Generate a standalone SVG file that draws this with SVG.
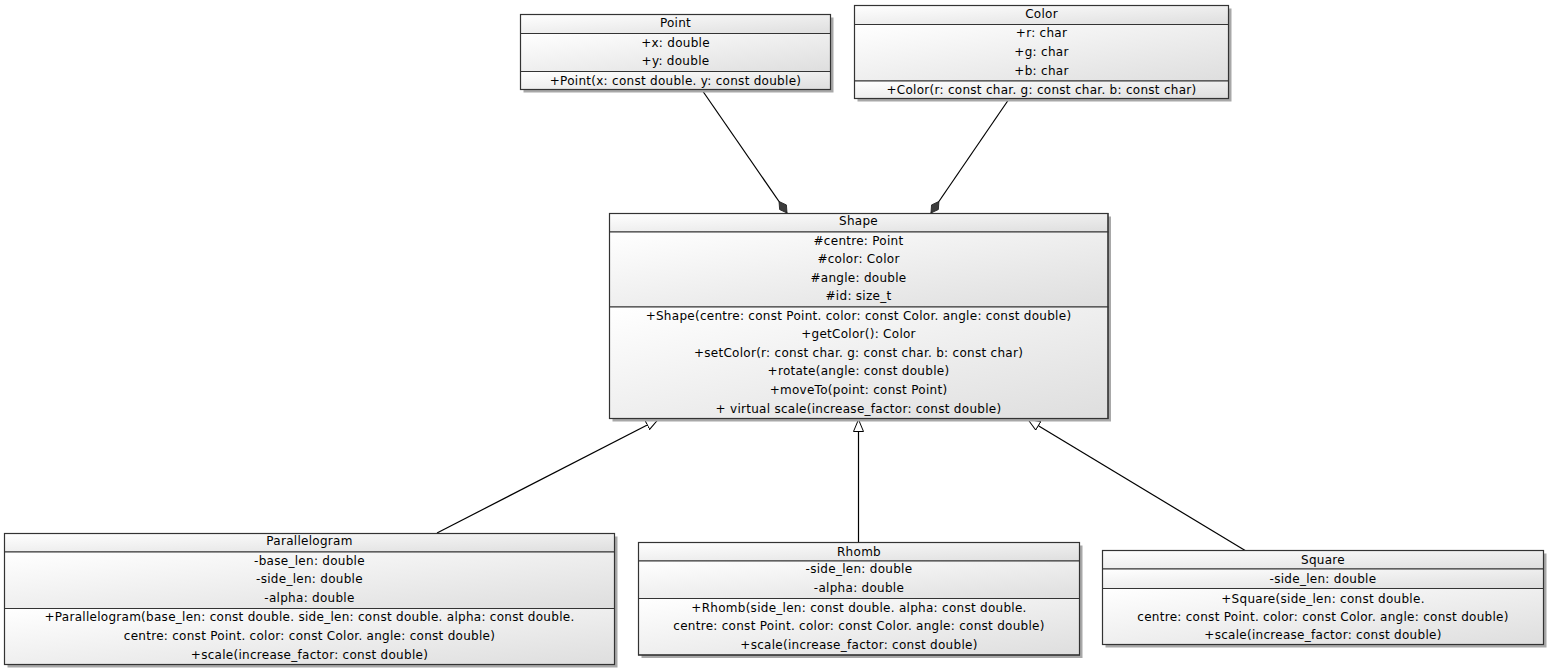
<svg xmlns="http://www.w3.org/2000/svg" width="1547" height="670" viewBox="0 0 1547 670">
<defs>
<linearGradient id="g" x1="0" y1="0" x2="1" y2="1">
<stop offset="0" stop-color="#ffffff"/>
<stop offset="1" stop-color="#dedede"/>
</linearGradient>
<marker id="diamond" viewBox="0 0 14 9" refX="14" refY="4.5" markerWidth="14" markerHeight="9" orient="auto" markerUnits="userSpaceOnUse">
<path d="M0,4.5 L7,0.4 L14,4.5 L7,8.6 Z" fill="#3c3c3c" stroke="#222" stroke-width="0.8"/>
</marker>
<marker id="tri" viewBox="0 0 13 11" refX="12.5" refY="5.5" markerWidth="13" markerHeight="11" orient="auto" markerUnits="userSpaceOnUse">
<path d="M0.5,0.5 L12.5,5.5 L0.5,10.5 Z" fill="#ffffff" stroke="#000" stroke-width="1"/>
</marker>
</defs>
<style>
.sh{fill:#a8a8a8}
.c{fill:url(#g);stroke:#333;stroke-width:1}
.b{fill:none;stroke:#333;stroke-width:1.2}
text{font-family:"DejaVu Sans",sans-serif;font-size:12px;fill:#000;text-anchor:middle;letter-spacing:0.28px}
.ln{stroke:#000;stroke-width:1.2;fill:none}
</style>

<g id="connectors">
<line class="ln" x1="702" y1="90" x2="787" y2="213" marker-end="url(#diamond)"/>
<line class="ln" x1="1009" y1="99" x2="931" y2="213" marker-end="url(#diamond)"/>
<line class="ln" x1="437" y1="533" x2="658" y2="419.5" marker-end="url(#tri)"/>
<line class="ln" x1="858.5" y1="542" x2="858.5" y2="419.5" marker-end="url(#tri)"/>
<line class="ln" x1="1246" y1="551" x2="1028" y2="419.5" marker-end="url(#tri)"/>
</g>

<g id="Point">
<rect class="sh" x="523.5" y="17.5" width="310" height="75"/>
<rect class="c" x="520.5" y="14.5" width="310" height="19"/>
<rect class="c" x="520.5" y="33.5" width="310" height="38"/>
<rect class="c" x="520.5" y="71.5" width="310" height="18"/>
<rect class="b" x="520.5" y="14.5" width="310" height="75"/>
<text x="675.5" y="27">Point</text>
<text x="675.5" y="46.5">+x: double</text>
<text x="675.5" y="65">+y: double</text>
<text x="675.5" y="84.5">+Point(x: const double. y: const double)</text>
</g>

<g id="Color">
<rect class="sh" x="857.5" y="8.5" width="374" height="93"/>
<rect class="c" x="854.5" y="5.5" width="374" height="19"/>
<rect class="c" x="854.5" y="24.5" width="374" height="56.5"/>
<rect class="c" x="854.5" y="81" width="374" height="17.5"/>
<rect class="b" x="854.5" y="5.5" width="374" height="93"/>
<text x="1041.5" y="18">Color</text>
<text x="1041.5" y="36.5">+r: char</text>
<text x="1041.5" y="55.5">+g: char</text>
<text x="1041.5" y="74.5">+b: char</text>
<text x="1041.5" y="94">+Color(r: const char. g: const char. b: const char)</text>
</g>

<g id="Shape">
<rect class="sh" x="612.5" y="216.5" width="498.5" height="205"/>
<rect class="c" x="609.5" y="213.5" width="498.5" height="18.5"/>
<rect class="c" x="609.5" y="232" width="498.5" height="75"/>
<rect class="c" x="609.5" y="307" width="498.5" height="111.5"/>
<rect class="b" x="609.5" y="213.5" width="498.5" height="205"/>
<text x="858.5" y="225">Shape</text>
<text x="858.5" y="244.5">#centre: Point</text>
<text x="858.5" y="263">#color: Color</text>
<text x="858.5" y="281.5">#angle: double</text>
<text x="858.5" y="300">#id: size_t</text>
<text x="858.5" y="319.5">+Shape(centre: const Point. color: const Color. angle: const double)</text>
<text x="858.5" y="338">+getColor(): Color</text>
<text x="858.5" y="356.5">+setColor(r: const char. g: const char. b: const char)</text>
<text x="858.5" y="375">+rotate(angle: const double)</text>
<text x="858.5" y="393.5">+moveTo(point: const Point)</text>
<text x="858.5" y="412.5">+ virtual scale(increase_factor: const double)</text>
</g>

<g id="Parallelogram">
<rect class="sh" x="7.5" y="536.5" width="610" height="131"/>
<rect class="c" x="4.5" y="533.5" width="610" height="18.5"/>
<rect class="c" x="4.5" y="552" width="610" height="56.5"/>
<rect class="c" x="4.5" y="608.5" width="610" height="56"/>
<rect class="b" x="4.5" y="533.5" width="610" height="131"/>
<text x="309.5" y="545">Parallelogram</text>
<text x="309.5" y="564.5">-base_len: double</text>
<text x="309.5" y="583">-side_len: double</text>
<text x="309.5" y="601.5">-alpha: double</text>
<text x="309.5" y="621">+Parallelogram(base_len: const double. side_len: const double. alpha: const double.</text>
<text x="309.5" y="639.5">centre: const Point. color: const Color. angle: const double)</text>
<text x="309.5" y="658.5">+scale(increase_factor: const double)</text>
</g>

<g id="Rhomb">
<rect class="sh" x="641.5" y="545.5" width="441" height="112.5"/>
<rect class="c" x="638.5" y="542.5" width="441" height="18.5"/>
<rect class="c" x="638.5" y="561" width="441" height="37.5"/>
<rect class="c" x="638.5" y="598.5" width="441" height="56.5"/>
<rect class="b" x="638.5" y="542.5" width="441" height="112.5"/>
<text x="859" y="555.5">Rhomb</text>
<text x="859" y="573">-side_len: double</text>
<text x="859" y="592">-alpha: double</text>
<text x="859" y="611.5">+Rhomb(side_len: const double. alpha: const double.</text>
<text x="859" y="630">centre: const Point. color: const Color. angle: const double)</text>
<text x="859" y="648.5">+scale(increase_factor: const double)</text>
</g>

<g id="Square">
<rect class="sh" x="1105.5" y="553.5" width="441" height="94"/>
<rect class="c" x="1102.5" y="550.5" width="441" height="18.5"/>
<rect class="c" x="1102.5" y="569" width="441" height="19.5"/>
<rect class="c" x="1102.5" y="588.5" width="441" height="56"/>
<rect class="b" x="1102.5" y="550.5" width="441" height="94"/>
<text x="1323" y="564">Square</text>
<text x="1323" y="582.5">-side_len: double</text>
<text x="1323" y="602.5">+Square(side_len: const double.</text>
<text x="1323" y="621">centre: const Point. color: const Color. angle: const double)</text>
<text x="1323" y="639">+scale(increase_factor: const double)</text>
</g>
</svg>
